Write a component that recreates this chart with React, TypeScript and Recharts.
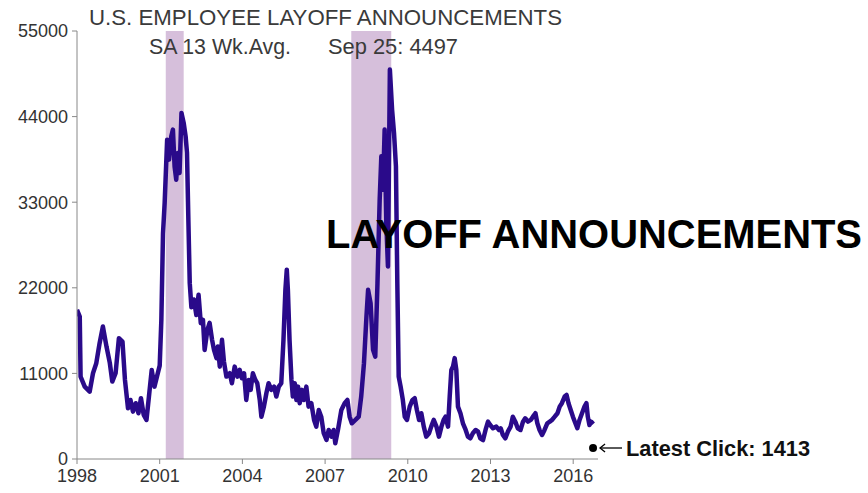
import React from 'react';
import { LineChart, Line, XAxis, YAxis, ReferenceArea, ReferenceDot } from 'recharts';

// weekly layoff announcements, SA 13 wk avg
const T_1998_2000 = [1998.0, 1998.1, 1998.13, 1998.28, 1998.46, 1998.58, 1998.7, 1998.82, 1998.94, 1999.07, 1999.19, 1999.28, 1999.4, 1999.52, 1999.65, 1999.74, 1999.85, 1999.94, 2000.03, 2000.13, 2000.23, 2000.32, 2000.42, 2000.52, 2000.61, 2000.71, 2000.81, 2000.9];
const V_1998_2000 = [19170, 18300, 10590, 9300, 8660, 11020, 12310, 14880, 17020, 14450, 12350, 9950, 11020, 15530, 15090, 10160, 6520, 7590, 6090, 7170, 5880, 7810, 5660, 5020, 8020, 11450, 9300, 10590];

const T_2001_2003 = [2001.0, 2001.06, 2001.12, 2001.18, 2001.27, 2001.34, 2001.42, 2001.48, 2001.54, 2001.6, 2001.66, 2001.72, 2001.79, 2001.87, 2001.94, 2001.99, 2002.04, 2002.09, 2002.15, 2002.24, 2002.33, 2002.41, 2002.49, 2002.57, 2002.63, 2002.73, 2002.81, 2002.9, 2002.97, 2003.06, 2003.11, 2003.18, 2003.26, 2003.33, 2003.42, 2003.54, 2003.62, 2003.72, 2003.82, 2003.9, 2003.98];
const V_2001_2003 = [12000, 17880, 29000, 32900, 41040, 38470, 41470, 42330, 37600, 35890, 39330, 36760, 44470, 43190, 41470, 39370, 30750, 22600, 19500, 20500, 18500, 21100, 17460, 17880, 14020, 16600, 17500, 15310, 14020, 12960, 14450, 11870, 15310, 12520, 10590, 11020, 9740, 11870, 10590, 11450, 10380];

const T_2004_2007 = [2004.06, 2004.14, 2004.23, 2004.3, 2004.38, 2004.47, 2004.54, 2004.63, 2004.69, 2004.78, 2004.87, 2004.95, 2005.05, 2005.15, 2005.23, 2005.32, 2005.41, 2005.49, 2005.56, 2005.61, 2005.65, 2005.71, 2005.78, 2005.83, 2005.9, 2005.96, 2006.02, 2006.08, 2006.16, 2006.23, 2006.32, 2006.4, 2006.5, 2006.6, 2006.68, 2006.77, 2006.86, 2006.95, 2007.05, 2007.13, 2007.23, 2007.31, 2007.37, 2007.47, 2007.59, 2007.71, 2007.81, 2007.89, 2007.97];
const V_2004_2007 = [11020, 7590, 10160, 8880, 11020, 10160, 9740, 7590, 5440, 6730, 8450, 9740, 8880, 9300, 8020, 9300, 9740, 15310, 21740, 24320, 21740, 15310, 10160, 8020, 9740, 7590, 9300, 7170, 8880, 7590, 9300, 6730, 7170, 5020, 4160, 6300, 5440, 3310, 2440, 3730, 2870, 3730, 2020, 3800, 6300, 7170, 7590, 5440, 4590];

const T_2008_2011 = [2008.1, 2008.22, 2008.31, 2008.41, 2008.5, 2008.56, 2008.65, 2008.74, 2008.82, 2008.9, 2008.98, 2009.04, 2009.1, 2009.16, 2009.22, 2009.28, 2009.35, 2009.43, 2009.5, 2009.57, 2009.62, 2009.67, 2009.74, 2009.82, 2009.89, 2009.97, 2010.07, 2010.17, 2010.25, 2010.33, 2010.41, 2010.49, 2010.58, 2010.67, 2010.77, 2010.85, 2010.94, 2011.04, 2011.13, 2011.22, 2011.3, 2011.37, 2011.46, 2011.52, 2011.58, 2011.64, 2011.7, 2011.76, 2011.82, 2011.91];
const V_2008_2011 = [5020, 5440, 8020, 12310, 18300, 21740, 20030, 14020, 13160, 22600, 33320, 38890, 34610, 42330, 30320, 24740, 50050, 44900, 41900, 37600, 22600, 10590, 9300, 7590, 5440, 5020, 6730, 7590, 7810, 6300, 5020, 5880, 4160, 2870, 3310, 4160, 5020, 4160, 2870, 4160, 5020, 5440, 4160, 8020, 11450, 11870, 12960, 11450, 6730, 5880];

const T_2012_2016 = [2012.0, 2012.1, 2012.18, 2012.27, 2012.36, 2012.46, 2012.55, 2012.63, 2012.73, 2012.82, 2012.91, 2012.99, 2013.09, 2013.21, 2013.31, 2013.37, 2013.45, 2013.54, 2013.63, 2013.73, 2013.81, 2013.9, 2013.99, 2014.09, 2014.18, 2014.26, 2014.36, 2014.46, 2014.54, 2014.63, 2014.7, 2014.78, 2014.87, 2014.96, 2015.06, 2015.15, 2015.23, 2015.33, 2015.43, 2015.51, 2015.59, 2015.69, 2015.76, 2015.83, 2015.91, 2015.99, 2016.08, 2016.15, 2016.23, 2016.32, 2016.41, 2016.48, 2016.53, 2016.59, 2016.65, 2016.73];
const V_2012_2016 = [4590, 3730, 2870, 2660, 3310, 3730, 3510, 2660, 2440, 3730, 4800, 4370, 3950, 4160, 3730, 3950, 3090, 2660, 3510, 4160, 5440, 4800, 3950, 3730, 4800, 5230, 4800, 5020, 5440, 5880, 4590, 3730, 3090, 3730, 4590, 4800, 5020, 5440, 5880, 6730, 7170, 8020, 8230, 7170, 6300, 5440, 4590, 3950, 5020, 5880, 6730, 7170, 5440, 4370, 4800, 4497];

const YEAR_TICKS = [1998, 2001, 2004, 2007, 2010, 2013, 2016];
const VALUE_TICKS = [0, 11000, 22000, 33000, 44000, 55000];
const RECESSIONS = [[2001.22, 2001.87], [2007.95, 2009.4]];
const LATEST_CLICK = { t: 2016.72, v: 1413 };

const T_ALL = [...T_1998_2000, ...T_2001_2003, ...T_2004_2007, ...T_2008_2011, ...T_2012_2016];
const V_ALL = [...V_1998_2000, ...V_2001_2003, ...V_2004_2007, ...V_2008_2011, ...V_2012_2016];
const data = T_ALL.map((t, i) => ({ t, v: V_ALL[i] }));

const FONT = '"Liberation Sans", Arial, sans-serif';
const tickStyle = { fill: '#333', fontSize: 18, fontFamily: FONT };

const LatestClick = (props: any) => {
  const { cx, cy } = props;
  if (cx == null || cy == null) return null;
  return (
    <g>
      <circle cx={cx} cy={cy} r={4} fill="#000" />
      <line x1={cx + 7} y1={cy} x2={cx + 29} y2={cy} stroke="#000" strokeWidth={1.3} />
      <polyline points={`${cx + 12},${cy - 4} ${cx + 7},${cy} ${cx + 12},${cy + 4}`} fill="none" stroke="#000" strokeWidth={1.3} />
      <text x={cx + 33} y={cy + 8} fontFamily={FONT} fontWeight={700} fontSize={22} fill="#111" textLength={184} lengthAdjust="spacingAndGlyphs">
        Latest Click: 1413
      </text>
    </g>
  );
};

export default function App() {
  return (
    <div style={{ position: 'absolute', left: 0, top: 0, width: 868, height: 493, background: '#fff' }}>
      <LineChart width={868} height={493} data={data} margin={{ top: 31, right: 270, bottom: 2, left: 0 }}>
        {RECESSIONS.map(([a, b], i) => (
          <ReferenceArea key={i} x1={a} x2={b} y1={0} y2={55000} fill="#d6bfdb" fillOpacity={1} stroke="none" />
        ))}
        <XAxis
          type="number"
          dataKey="t"
          domain={[1998, 2016.9]}
          ticks={YEAR_TICKS}
          allowDataOverflow
          height={32}
          tickSize={5}
          tickMargin={5}
          stroke="#888"
          tick={tickStyle}
        />
        <YAxis
          type="number"
          domain={[0, 55000]}
          ticks={VALUE_TICKS}
          width={77}
          tickSize={5}
          tickMargin={4}
          stroke="#888"
          tick={tickStyle}
        />
        <Line type="linear" dataKey="v" stroke="#2a0a8a" strokeWidth={4.5} strokeLinejoin="round" dot={false} isAnimationActive={false} />
        <ReferenceDot x={LATEST_CLICK.t} y={LATEST_CLICK.v} r={4} shape={LatestClick} />
      </LineChart>
      <svg width={868} height={493} style={{ position: 'absolute', left: 0, top: 0, pointerEvents: 'none' }}>
        <g fontFamily={FONT} fill="#3a3a3a" fontSize={22}>
          <text x={89} y={25} textLength={473} lengthAdjust="spacingAndGlyphs">U.S. EMPLOYEE LAYOFF ANNOUNCEMENTS</text>
          <text x={149} y={54} textLength={142} lengthAdjust="spacingAndGlyphs">SA 13 Wk.Avg.</text>
          <text x={328} y={54} textLength={130} lengthAdjust="spacingAndGlyphs">Sep 25: 4497</text>
        </g>
        <text x={326} y={248} fontFamily={FONT} fontWeight={700} fontSize={41} fill="#000" textLength={536} lengthAdjust="spacingAndGlyphs">
          LAYOFF ANNOUNCEMENTS
        </text>
      </svg>
    </div>
  );
}
